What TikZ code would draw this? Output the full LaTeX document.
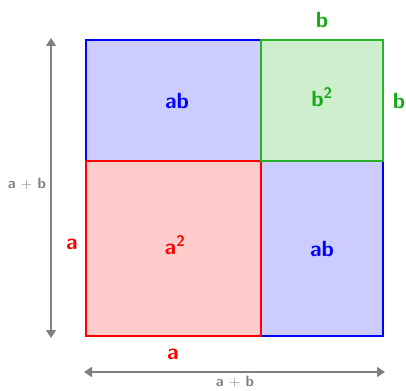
\documentclass[tikz,border=0pt]{standalone}
\usepackage{fontspec}
\usetikzlibrary{arrows.meta}
\definecolor{myblue}{RGB}{0,0,255}
\definecolor{myred}{RGB}{255,0,0}
\definecolor{mygreen}{RGB}{20,170,20}
\definecolor{mygreenline}{RGB}{40,180,40}
\definecolor{bluefill}{RGB}{204,204,255}
\definecolor{redfill}{RGB}{255,204,204}
\definecolor{greenfill}{RGB}{204,238,204}
\definecolor{mygray}{RGB}{128,128,128}
\tikzset{
  lbl/.style={font=\sffamily\bfseries\fontsize{22}{24}\selectfont, inner sep=0pt},
  dim/.style={font=\sffamily\bfseries\fontsize{15}{17}\selectfont, text=mygray, inner sep=0pt},
  dimarrow/.style={draw=mygray, line width=1.6pt, {Triangle[length=8pt,width=10pt]}-{Triangle[length=8pt,width=10pt]}},
  part/.style={line width=1.3pt}
}
\begin{document}
\begin{tikzpicture}[x=1pt,y=-1pt]
\useasboundingbox (0,0) rectangle (406,390);
% parts
\filldraw[part, draw=myblue, fill=bluefill] (86,40) rectangle (261,161);
\filldraw[part, draw=myblue, fill=bluefill] (261,161) rectangle (383,336);
\filldraw[part, draw=myred, fill=redfill] (86,161) rectangle (261,336);
\filldraw[part, draw=mygreenline, fill=greenfill] (261,40) rectangle (383,161);
% area labels
\node[lbl, text=myblue] (ab1) at (177,100.5) {ab};
\node[lbl, text=myblue] (ab2) at (322,249) {ab};
\node[lbl, text=myred] (a2) at (175,245) {a\textsuperscript{2}};
\node[lbl, text=mygreen] (b2) at (322,97) {b\textsuperscript{2}};
% side labels
\node[lbl, text=mygreen] (btop) at (322,20) {b};
\node[lbl, text=mygreen] (bright) at (399,101) {b};
\node[lbl, text=myred] (aleft) at (72,244) {a};
\node[lbl, text=myred] (abot) at (173,354) {a};
% dimension arrows
\coordinate (vt) at (51,38);
\coordinate (vb) at (51,338);
\coordinate (hl) at (84,372);
\coordinate (hr) at (385,372);
\draw[dimarrow] (vt) -- (vb);
\draw[dimarrow] (hl) -- (hr);
\node[dim] (ableft) at (27,184) {a $+$ b};
\node[dim] (abbot) at (235,382) {a $+$ b};
\end{tikzpicture}
\end{document}
